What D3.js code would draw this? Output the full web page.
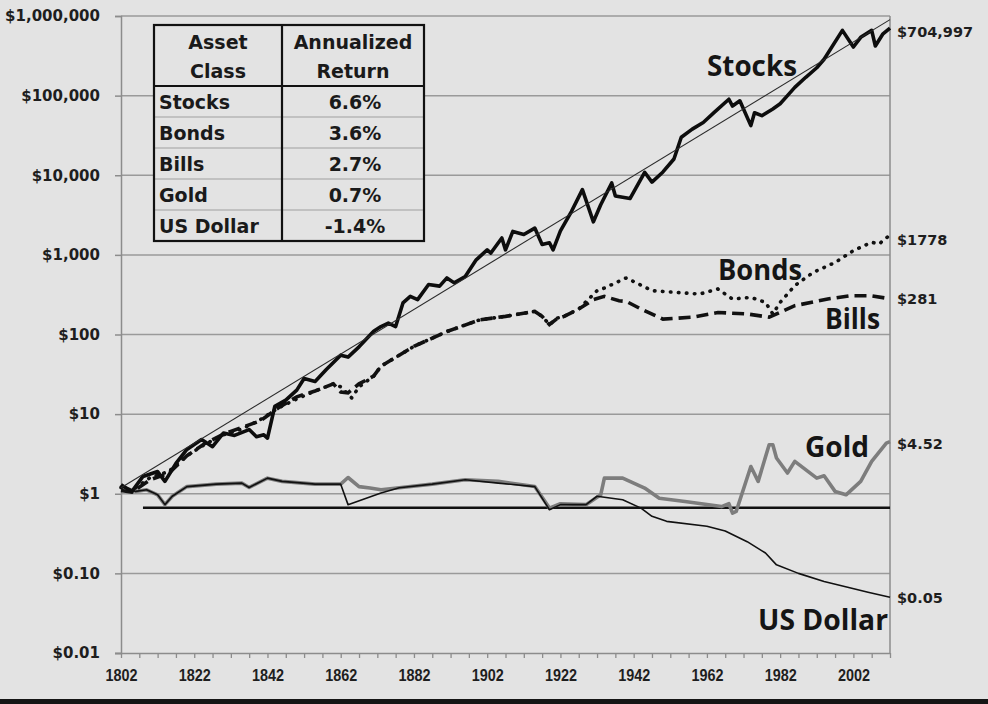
<!DOCTYPE html>
<html><head><meta charset="utf-8">
<script src="https://cdn.jsdelivr.net/npm/d3@7"></script>
<style>
html,body{margin:0;padding:0;background:#e3e3e3;}
svg{display:block;}
</style></head>
<body>
<svg id="chart" width="988" height="704"></svg>
<script>
// ---------- data ----------
const stockYears = [1802,1805,1808,1812,1814,1817,1820,1824,1827,1830,1833,1837,1839,1841,1842,1844,1847,1850,1852,1855,1858,1862,1864,1867,1871,1873,1875,1877,1879,1881,1883,1886,1889,1891,1893,1896,1899,1902,1903,1906,1907,1909,1912,1915,1917,1919,1920,1922,1925,1928,1931,1933,1936,1937,1941,1945,1947,1950,1953,1955,1958,1961,1964,1968,1969,1971,1974,1975,1977,1980,1982,1984,1986,1989,1992,1994,1999,2002,2004,2007,2008,2010,2012];
const stockValues = [1.3,1.07,1.65,1.9,1.43,2.4,3.6,4.8,3.9,5.8,5.4,6.4,5.2,5.5,5.0,12.5,15,20,28,25.7,36,55,52,70,110,126,139,126,249,301,274,424,405,514,445,536,867,1155,1055,1630,1155,1970,1800,2170,1350,1420,1155,2000,3500,6600,2600,4260,8000,5500,5100,10900,8200,11000,16000,30000,38000,46000,61600,90000,74000,86000,42000,61000,56000,68000,79000,100000,127000,170000,224000,286000,660000,408000,540000,660000,420000,590000,704997];

const bondYears = [1802,1805,1810,1815,1820,1825,1830,1835,1840,1845,1850,1855,1860,1862,1865,1867,1871,1873,1882,1891,1900,1907,1915,1917,1919,1921,1923,1927,1932,1934,1940,1947,1954,1960,1965,1969,1974,1978,1980,1982,1986,1991,1997,2002,2007,2009,2012];
const bondValues = [1.2,1.1,1.6,1.9,3.0,4.2,5.5,6.5,8.5,12,15.5,19.5,24,22,16,22,30,40,71,109,153,169,195,169,133,160,169,209,355,383,514,355,337,322,373,279,293,253,181,253,411,601,803,1130,1440,1370,1778];

const billYears = [1802,1805,1810,1815,1820,1825,1830,1835,1840,1845,1850,1855,1860,1862,1864,1867,1871,1873,1882,1891,1900,1907,1915,1917,1919,1921,1923,1927,1931,1934,1938,1940,1944,1950,1958,1965,1973,1979,1986,1995,2001,2007,2012];
const billValues = [1.1,1.05,1.5,1.8,3.0,4.3,5.6,6.8,8.2,12,16.5,19.5,24,19,18.5,24,30,40,71,109,153,169,195,169,133,157,169,209,274,301,265,260,209,156,165,189,181,165,230,279,306,306,281];

const goldYears = [1802,1806,1809,1812,1814,1816,1820,1828,1835,1837,1842,1846,1855,1862,1864,1867,1870,1873,1878,1887,1896,1905,1915,1919,1922,1929,1933,1934,1939,1945,1949,1956,1966,1968,1969,1970,1974,1976,1979,1980,1981,1984,1986,1992,1994,1997,2000,2004,2007,2011,2012];
const goldValues = [1.23,1.07,1.12,0.97,0.73,0.93,1.23,1.32,1.36,1.2,1.57,1.43,1.32,1.32,1.6,1.23,1.18,1.12,1.19,1.32,1.5,1.43,1.23,0.66,0.75,0.73,0.97,1.57,1.57,1.18,0.88,0.8,0.69,0.75,0.57,0.6,2.2,1.43,4.13,4.13,2.81,1.82,2.55,1.57,1.68,1.07,0.97,1.43,2.55,4.33,4.52];

const dollarYears = [1802,1806,1809,1812,1814,1816,1820,1828,1835,1837,1842,1846,1855,1862,1864,1873,1878,1887,1896,1905,1915,1919,1922,1929,1932,1939,1944,1947,1951,1962,1967,1973,1978,1981,1987,1994,2001,2006,2012];
const dollarValues = [1.23,1.07,1.12,0.97,0.73,0.93,1.23,1.32,1.36,1.2,1.57,1.43,1.32,1.32,0.73,1.02,1.19,1.32,1.5,1.36,1.23,0.63,0.73,0.73,0.93,0.84,0.66,0.52,0.45,0.39,0.34,0.25,0.18,0.128,0.1,0.079,0.066,0.058,0.05];

const trendYears = [1802,2012];
const trendValues = [1.19,900000];
const refLineYears = [1808,2012];
const refLineValues = [0.667,0.667];

const yTickValues = [0.01,0.1,1,10,100,1000,10000,100000,1000000];
const yTickLabels = ["$0.01","$0.10","$1","$10","$100","$1,000","$10,000","$100,000","$1,000,000"];
const xLabelYears = [1802,1822,1842,1862,1882,1902,1922,1942,1962,1982,2002];

const tableHeader = [["Asset","Class"],["Annualized","Return"]];
const tableAssets = ["Stocks","Bonds","Bills","Gold","US Dollar"];
const tableReturns = ["6.6%","3.6%","2.7%","0.7%","-1.4%"];

const endLabels = ["$704,997","$1778","$281","$4.52","$0.05"];
const endLabelValues = [704997,1778,281,4.52,0.05];

// ---------- setup ----------
const svg = d3.select("#chart");
const W = 988, H = 704;
const L = 121, R = 890, T = 16, B = 653;
const x = d3.scaleLinear().domain([1802,2012]).range([L,R]);
const y = d3.scaleLog().domain([0.01,1000000]).range([B,T]);

svg.append("rect").attr("width",W).attr("height",H).attr("fill","#e3e3e3");
svg.append("rect").attr("x",0).attr("y",699).attr("width",W).attr("height",5).attr("fill","#151515");

// gridlines
svg.append("g").selectAll("line").data(yTickValues.filter(v=>v>0.01))
  .join("line")
  .attr("x1",L).attr("x2",R)
  .attr("y1",d=>y(d)).attr("y2",d=>y(d))
  .attr("stroke","#9a9a9a").attr("stroke-width",1.5);

// right border
svg.append("line").attr("x1",R).attr("x2",R).attr("y1",T).attr("y2",B)
  .attr("stroke","#8c8c8c").attr("stroke-width",1.5);

// y axis
const yAxis = d3.axisLeft(y).tickValues(yTickValues)
  .tickFormat((d,i)=>yTickLabels[i]).tickSize(6).tickPadding(14);
const gy = svg.append("g").attr("transform",`translate(${L},0)`).call(yAxis);
gy.select(".domain").attr("stroke","#8c8c8c").attr("stroke-width",1.5);
gy.selectAll(".tick line").attr("stroke","#8c8c8c").attr("stroke-width",1.5);
gy.selectAll(".tick text").attr("font-family","'DejaVu Sans', sans-serif")
  .attr("font-weight","bold").attr("font-size",15).attr("fill","#1e1e1e")
  .attr("x",-21);

// x axis
const minorYears = d3.range(1802,2013,5);
const xAxis = d3.axisBottom(x).tickValues(minorYears).tickSize(5)
  .tickFormat(d=> xLabelYears.includes(d) ? String(d) : "");
const gx = svg.append("g").attr("transform",`translate(0,${B})`).call(xAxis);
gx.select(".domain").attr("stroke","#8c8c8c").attr("stroke-width",1.5)
  .attr("d",`M${L-6},0.5H${R}`);
gx.selectAll(".tick line").attr("stroke","#8c8c8c").attr("stroke-width",1.3);
gx.selectAll(".tick text").attr("font-family","'Liberation Sans', Arial, sans-serif")
  .attr("font-weight","bold").attr("font-size",16).attr("fill","#1e1e1e")
  .attr("y",17)
  .each(function(d){ if(xLabelYears.includes(d)){ d3.select(this).attr("textLength",32).attr("lengthAdjust","spacingAndGlyphs"); }});

// ---------- series ----------
function mk(years, values){ return years.map((yr,i)=>({yr, v: values[i]})); }
const line = d3.line().x(d=>x(d.yr)).y(d=>y(d.v));
const plot = svg.append("g");

plot.append("path").datum(mk(refLineYears,refLineValues)).attr("d",line)
  .attr("fill","none").attr("stroke","#111").attr("stroke-width",2.6);
plot.append("path").datum(mk(goldYears,goldValues)).attr("d",line)
  .attr("fill","none").attr("stroke","#7d7d7d").attr("stroke-width",3.6).attr("stroke-linejoin","round");
plot.append("path").datum(mk(dollarYears,dollarValues)).attr("d",line)
  .attr("fill","none").attr("stroke","#111").attr("stroke-width",1.6).attr("stroke-linejoin","round");
plot.append("path").datum(mk(billYears,billValues)).attr("d",line)
  .attr("fill","none").attr("stroke","#111").attr("stroke-width",3.6)
  .attr("stroke-dasharray","12,6");
plot.append("path").datum(mk(bondYears,bondValues)).attr("d",line)
  .attr("fill","none").attr("stroke","#111").attr("stroke-width",3.6)
  .attr("stroke-dasharray","0.5,7.5").attr("stroke-linecap","round");
plot.append("path").datum(mk(stockYears,stockValues)).attr("d",line)
  .attr("fill","none").attr("stroke","#0d0d0d").attr("stroke-width",3.6).attr("stroke-linejoin","round");
plot.append("path").datum(mk(trendYears,trendValues)).attr("d",line)
  .attr("fill","none").attr("stroke","#2a2a2a").attr("stroke-width",1.1);

// ---------- series labels ----------
const seriesLabels = [
  {t:"Stocks", x:707, y:76, w:90},
  {t:"Bonds", x:718, y:280, w:84},
  {t:"Bills", x:825, y:329, w:55},
  {t:"Gold", x:805, y:457, w:64},
  {t:"US Dollar", x:758, y:630, w:130}
];
svg.append("g").selectAll("text").data(seriesLabels).join("text")
  .attr("x",d=>d.x).attr("y",d=>d.y).text(d=>d.t)
  .attr("textLength",d=>d.w).attr("lengthAdjust","spacingAndGlyphs")
  .attr("font-family","'Open Sans', sans-serif").attr("font-weight","bold")
  .attr("font-size",29).attr("fill","#151515");

// end labels
svg.append("g").selectAll("text").data(endLabels).join("text")
  .attr("x",897).attr("y",(d,i)=>{
     const adj = [32,240,299,444,598][i];
     return adj;
  })
  .attr("dy","0.35em").text(d=>d)
  .attr("font-family","'DejaVu Sans', sans-serif").attr("font-weight","bold")
  .attr("font-size",14.5).attr("fill","#1e1e1e");

// ---------- table ----------
const tb = {x0:154, x1:282, x2:424, y0:25, yh:86, rowH:31};
const tg = svg.append("g");
const tBottom = tb.yh + tb.rowH*tableAssets.length;
tg.append("rect").attr("x",tb.x0).attr("y",tb.y0).attr("width",tb.x2-tb.x0)
  .attr("height",tBottom-tb.y0).attr("fill","#e3e3e3");
tableAssets.forEach((a,i)=>{
  if(i>0){
    tg.append("line").attr("x1",tb.x0).attr("x2",tb.x2)
      .attr("y1",tb.yh+tb.rowH*i).attr("y2",tb.yh+tb.rowH*i)
      .attr("stroke","#a0a0a0").attr("stroke-width",1.2);
  }
});
tg.append("rect").attr("x",tb.x0).attr("y",tb.y0).attr("width",tb.x2-tb.x0)
  .attr("height",tBottom-tb.y0).attr("fill","none").attr("stroke","#111").attr("stroke-width",2.2);
tg.append("line").attr("x1",tb.x0).attr("x2",tb.x2).attr("y1",tb.yh).attr("y2",tb.yh)
  .attr("stroke","#111").attr("stroke-width",2.2);
tg.append("line").attr("x1",tb.x1).attr("x2",tb.x1).attr("y1",tb.y0).attr("y2",tBottom)
  .attr("stroke","#111").attr("stroke-width",2.2);

const tFont = t => t.attr("font-family","'DejaVu Sans', sans-serif").attr("font-weight","bold")
  .attr("font-size",19).attr("fill","#1a1a1a");
tableHeader.forEach((lines,c)=>{
  const cx = c===0 ? (tb.x0+tb.x1)/2 : (tb.x1+tb.x2)/2;
  lines.forEach((ln,k)=>{
    tg.append("text").attr("x",cx).attr("y",[42,71][k]).attr("dy","0.35em")
      .attr("text-anchor","middle").text(ln).call(tFont);
  });
});
tableAssets.forEach((a,i)=>{
  const cy = tb.yh + tb.rowH*i + tb.rowH/2 + 1;
  tg.append("text").attr("x",tb.x0+5).attr("y",cy).attr("dy","0.35em").text(a).call(tFont);
  tg.append("text").attr("x",(tb.x1+tb.x2)/2+2).attr("y",cy).attr("dy","0.35em")
    .attr("text-anchor","middle").text(tableReturns[i]).call(tFont);
});
</script>
</body></html>
